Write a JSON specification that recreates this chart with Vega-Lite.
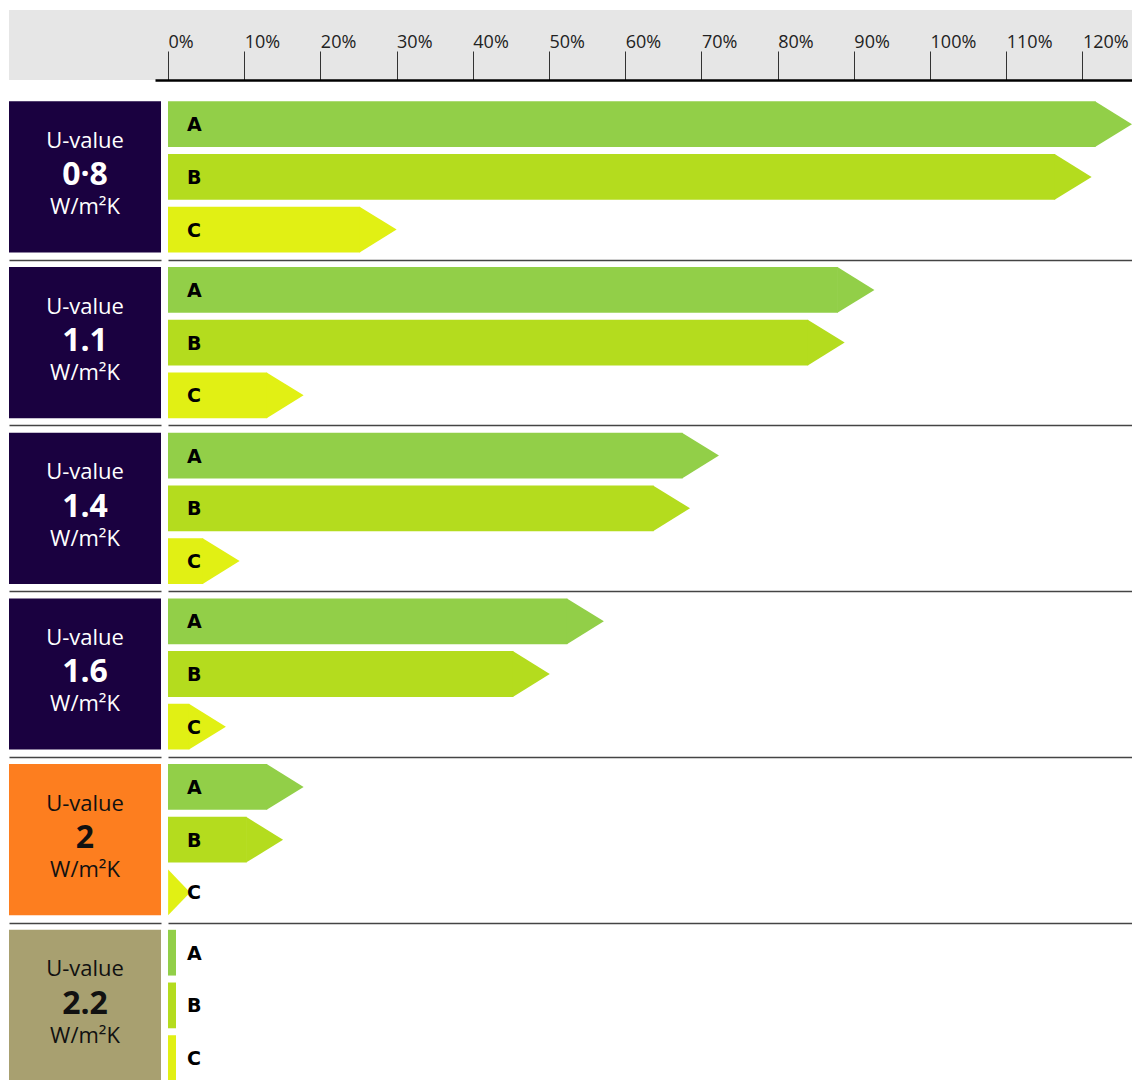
{
  "$schema": "https://vega.github.io/schema/vega-lite/v6.json",
  "padding": {"left": 9, "top": 10, "right": 0, "bottom": 0},
  "background": "white",
  "config": {"view": {"stroke": null}, "font": "Open Sans"},
  "datasets": {
    "groups": [
      {"group": "0·8", "status": "good"},
      {"group": "1.1", "status": "good"},
      {"group": "1.4", "status": "good"},
      {"group": "1.6", "status": "good"},
      {"group": "2", "status": "limit"},
      {"group": "2.2", "status": "poor"}
    ],
    "bars": [
      {"group": "0·8", "letter": "A", "value": 126.5},
      {"group": "0·8", "letter": "B", "value": 121.2},
      {"group": "0·8", "letter": "C", "value": 30.0},
      {"group": "1.1", "letter": "A", "value": 92.7},
      {"group": "1.1", "letter": "B", "value": 88.8},
      {"group": "1.1", "letter": "C", "value": 17.8},
      {"group": "1.4", "letter": "A", "value": 72.3},
      {"group": "1.4", "letter": "B", "value": 68.5},
      {"group": "1.4", "letter": "C", "value": 9.4},
      {"group": "1.6", "letter": "A", "value": 57.2},
      {"group": "1.6", "letter": "B", "value": 50.1},
      {"group": "1.6", "letter": "C", "value": 7.6},
      {"group": "2", "letter": "A", "value": 17.8},
      {"group": "2", "letter": "B", "value": 15.1},
      {"group": "2", "letter": "C", "value": 2.9},
      {"group": "2.2", "letter": "A", "value": 1.05},
      {"group": "2.2", "letter": "B", "value": 1.05},
      {"group": "2.2", "letter": "C", "value": 1.05}
    ]
  },
  "spacing": 0,
  "vconcat": [
    {
      "spacing": 0,
      "hconcat": [
        {
          "width": 146,
          "height": 70,
          "view": {"fill": "#e6e6e6", "stroke": null},
          "data": {"name": "groups"},
          "mark": {"type": "text"},
          "encoding": {"text": {"value": ""}}
        },
        {
          "width": 977,
          "height": 70,
          "view": {"fill": "#e6e6e6", "stroke": null},
          "data": {"name": "bars"},
          "mark": {"type": "point", "opacity": 0},
          "encoding": {
            "x": {
              "field": "value",
              "type": "quantitative",
              "scale": {"domain": [-1.7, 126.5], "nice": false, "zero": false},
              "axis": {
                "orient": "top",
                "offset": -70,
                "values": [0, 10, 20, 30, 40, 50, 60, 70, 80, 90, 100, 110, 120],
                "domain": true,
                "domainColor": "#000000",
                "domainWidth": 2.6,
                "grid": false,
                "ticks": true,
                "tickSize": 29,
                "tickColor": "#333333",
                "tickWidth": 1,
                "labelExpr": "datum.value + '%'",
                "labelAlign": "left",
                "labelBaseline": "alphabetic",
                "labelPadding": 4,
                "labelDx": 3,
                "labelFontSize": 18,
                "labelColor": "#222222",
                "labelFlush": false,
                "labelOverlap": false,
                "title": null
              }
            }
          }
        }
      ]
    },
    {
      "spacing": 7,
      "resolve": {"scale": {"color": "independent"}},
      "hconcat": [
        {
          "width": 152,
          "height": 1000,
          "data": {"name": "groups"},
          "encoding": {
            "y": {"field": "group", "type": "nominal",
                  "scale": {"domain": ["0·8", "1.1", "1.4", "1.6", "2", "2.2"], "paddingInner": 0.08751, "paddingOuter": 0.06125, "align": 1},
                  "axis": {"grid": true, "gridColor": "#444444", "gridWidth": 1.5, "ticks": false, "labels": false, "domain": false, "title": null,
                           "values": ["0·8", "1.1", "1.4", "1.6", "2"], "bandPosition": 1, "tickOffset": 7.25}}
          },
          "layer": [
            {
              "mark": {"type": "rect"},
              "encoding": {
                "fill": {"field": "status", "type": "nominal",
                         "scale": {"domain": ["good", "limit", "poor"], "range": ["#1a0140", "#fd7e1f", "#a8a070"]},
                         "legend": null}
              }
            },
            {
              "mark": {"type": "text", "fontSize": 22, "baseline": "middle", "align": "center", "dy": -36},
              "encoding": {
                "y": {"field": "group", "type": "nominal", "bandPosition": 0.5},
                "text": {"value": "U-value"},
                "color": {"field": "status", "type": "nominal",
                          "scale": {"domain": ["good", "limit", "poor"], "range": ["#ffffff", "#111111", "#111111"]},
                          "legend": null}
              }
            },
            {
              "mark": {"type": "text", "fontSize": 32, "fontWeight": "bold", "baseline": "middle", "align": "center", "dy": -1.5},
              "encoding": {
                "y": {"field": "group", "type": "nominal", "bandPosition": 0.5},
                "text": {"field": "group", "type": "nominal"},
                "color": {"field": "status", "type": "nominal", "legend": null}
              }
            },
            {
              "mark": {"type": "text", "fontSize": 22, "baseline": "middle", "align": "center", "dy": 30.5},
              "encoding": {
                "y": {"field": "group", "type": "nominal", "bandPosition": 0.5},
                "text": {"value": "W/m²K"},
                "color": {"field": "status", "type": "nominal", "legend": null}
              }
            }
          ]
        },
        {
          "width": 964,
          "height": 1000,
          "data": {"name": "bars"},
          "encoding": {
            "y": {"field": "group", "type": "nominal",
                  "scale": {"domain": ["0·8", "1.1", "1.4", "1.6", "2", "2.2"], "paddingInner": 0.08751, "paddingOuter": 0.06125, "align": 1},
                  "axis": {"grid": true, "gridColor": "#444444", "gridWidth": 1.5, "ticks": false, "labels": false, "domain": false, "title": null,
                           "values": ["0·8", "1.1", "1.4", "1.6", "2"], "bandPosition": 1, "tickOffset": 7.25}},
            "yOffset": {"field": "letter", "type": "nominal", "scale": {"domain": ["A", "B", "C"], "paddingInner": 0.132, "paddingOuter": 0}}
          },
          "layer": [
            {
              "transform": [{"filter": "datum.value >= 5"}],
              "mark": {"type": "bar", "xOffset": -36.5, "clip": true},
              "encoding": {
                "x": {"field": "value", "type": "quantitative", "stack": null,
                      "scale": {"domain": [0, 126.5], "nice": false, "zero": false}, "axis": null},
                "color": {"field": "letter", "type": "nominal",
                          "scale": {"domain": ["A", "B", "C"], "range": ["#92cf48", "#b4dc1e", "#e1f014"]},
                          "legend": null}
              }
            },
            {
              "transform": [{"filter": "datum.value >= 5"}],
              "mark": {"type": "point", "shape": "M-1.617,-1L0,0L-1.617,1Z", "size": 2094, "filled": true, "opacity": 1, "strokeWidth": 0, "clip": true},
              "encoding": {
                "x": {"field": "value", "type": "quantitative"},
                "color": {"field": "letter", "type": "nominal", "legend": null}
              }
            },
            {
              "transform": [{"filter": "datum.value >= 2 && datum.value < 5"}],
              "mark": {"type": "point", "shape": "M-0.96,-1L0,0L-0.96,1Z", "size": 2094, "filled": true, "opacity": 1, "strokeWidth": 0, "clip": true},
              "encoding": {
                "x": {"field": "value", "type": "quantitative"},
                "color": {"field": "letter", "type": "nominal", "legend": null}
              }
            },
            {
              "transform": [{"filter": "datum.value < 2"}],
              "mark": {"type": "bar", "clip": true},
              "encoding": {
                "x": {"field": "value", "type": "quantitative", "stack": null},
                "color": {"field": "letter", "type": "nominal", "legend": null}
              }
            },
            {
              "mark": {"type": "text", "font": "DejaVu Sans", "fontWeight": "bold", "fontSize": 19, "align": "left", "baseline": "middle", "dx": 19, "dy": 1, "color": "#000000"},
              "encoding": {
                "x": {"datum": 0, "type": "quantitative"},
                "text": {"field": "letter", "type": "nominal"}
              }
            }
          ]
        }
      ]
    }
  ]
}
